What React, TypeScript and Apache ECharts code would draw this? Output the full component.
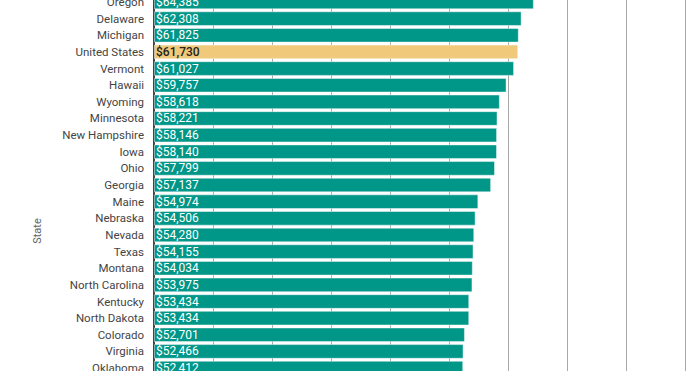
import React, { useEffect, useRef } from "react";
import * as echarts from "echarts";

const states = [
  "Oregon", "Delaware", "Michigan", "United States", "Vermont", "Hawaii", "Wyoming",
  "Minnesota", "New Hampshire", "Iowa", "Ohio", "Georgia", "Maine", "Nebraska", "Nevada",
  "Texas", "Montana", "North Carolina", "Kentucky", "North Dakota", "Colorado", "Virginia", "Oklahoma",
];
const incomes = [
  64385, 62308, 61825, 61730, 61027, 59757, 58618,
  58221, 58146, 58140, 57799, 57137, 54974, 54506, 54280,
  54155, 54034, 53975, 53434, 53434, 52701, 52466, 52412,
];
const highlight = "United States";
const xTicks = { min: 0, max: 90000, interval: 10000 };

const OFFSET = 12;

export default function App() {
  const ref = useRef<HTMLDivElement>(null);
  useEffect(() => {
    if (!ref.current) return;
    const chart = echarts.init(ref.current, undefined, { renderer: "svg" });
    const n = states.length;
    const band = 16.64;
    const top = 2 - band / 2 + OFFSET;
    const height = band * n;
    chart.setOption({
      animation: false,
      textStyle: { fontFamily: "Roboto" },
      grid: { left: 154, right: 5, top: top, height: height, containLabel: false },
      xAxis: {
        type: "value",
        min: xTicks.min,
        max: xTicks.max,
        interval: xTicks.interval,
        axisLabel: { show: false },
        axisLine: { show: false },
        axisTick: { show: false },
        splitLine: { show: true, lineStyle: { color: "#a8a8a8", width: 1 } },
      },
      yAxis: {
        type: "category",
        inverse: true,
        data: states,
        axisLine: { show: true, lineStyle: { color: "#444", width: 2 } },
        axisTick: { show: false },
        axisLabel: { color: "#444", fontSize: 11.5, fontWeight: 400, margin: 10, fontFamily: "Roboto" },
      },
      graphic: [
        {
          type: "text",
          x: 37,
          y: 231 + OFFSET,
          rotation: Math.PI / 2,
          style: {
            text: "State",
            fill: "#666",
            font: "11px Roboto",
            align: "center",
            verticalAlign: "middle",
          },
        },
      ],
      series: [
        {
          type: "bar",
          barCategoryGap: "12%",
          data: states.map((s, i) => ({
            value: incomes[i],
            itemStyle: {
              color: s === highlight ? "#F0CA7A" : "#009688",
              borderColor: "rgba(255,255,255,0.45)",
              borderWidth: 1,
            },
            label: { color: s === highlight ? "#222" : "#fff", fontWeight: s === highlight ? 500 : 400 },
          })),
          label: {
            show: true,
            position: "insideLeft",
            distance: 2,
            fontSize: 12,
            fontFamily: "Roboto",
            formatter: (p: any) => "$" + Number(p.value).toLocaleString("en-US"),
          },
        },
      ],
    });
    return () => chart.dispose();
  }, []);
  return (
    <div
      ref={ref}
      style={{ width: 690, height: 371 + 2 * OFFSET, position: "absolute", left: 0, top: -OFFSET }}
    />
  );
}
